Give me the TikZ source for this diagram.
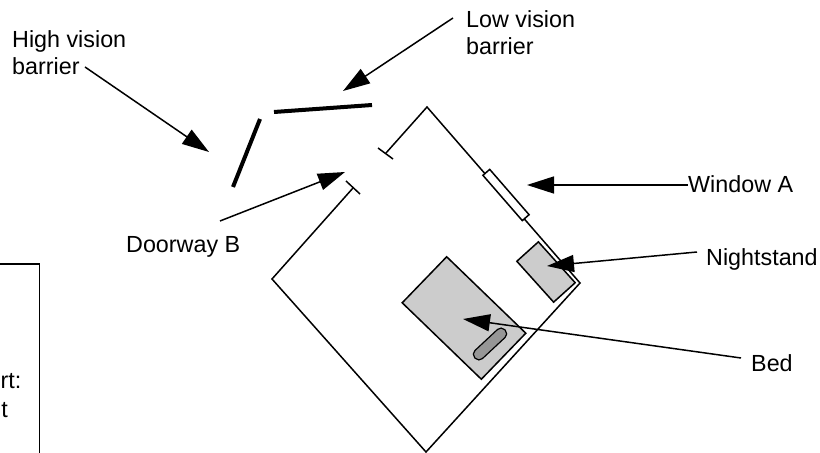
\documentclass[tikz,border=0pt]{standalone}
\usepackage{fontspec}
\setmainfont{Liberation Sans}
\usetikzlibrary{arrows.meta}
\definecolor{furngray}{RGB}{204,204,204}
\definecolor{pillowgray}{RGB}{150,150,150}
\begin{document}
\begin{tikzpicture}[x=1bp,y=-1bp,
  lbl/.style={font=\fontsize{23.4}{28}\selectfont, inner sep=0pt, anchor=base west, align=left},
  wall/.style={line width=1.5bp},
  barrier/.style={line width=4bp},
  pointer/.style={line width=1.5bp, -{Triangle[length=27bp,width=17bp]}},
  furn/.style={draw, line width=1.5bp, fill=furngray, inner sep=0pt},
]
\useasboundingbox (0,0) rectangle (820,453);

% room outline
\coordinate (T) at (427,107);
\coordinate (R) at (580,283);
\coordinate (B) at (426,452);
\coordinate (L) at (272,279);
\coordinate (D1) at (353,188);
\coordinate (D2) at (386,153);
\draw[wall] (D2) -- (T) -- (R) -- (B) -- (L) -- (D1);
\coordinate (t1a) at (346,181); \coordinate (t1b) at (360,194);
\coordinate (t2a) at (378,148); \coordinate (t2b) at (393,159);
\draw[wall] (t1a) -- (t1b);
\draw[wall] (t2a) -- (t2b);

% window
\node[draw, wall, fill=white, minimum width=60bp, minimum height=9bp, rotate=-49, inner sep=0pt] (win) at (506,195) {};

% furniture
\node[furn, minimum width=55bp, minimum height=29bp, rotate=-48] (ns) at (546,272) {};
\node[furn, minimum width=110bp, minimum height=64bp, rotate=-44] (bed) at (464,318) {};
\node[draw, line width=1.2bp, fill=pillowgray, rounded corners=5bp, minimum width=41bp, minimum height=11bp, rotate=43, inner sep=0pt] (pil) at (490,344) {};

% vision barriers
\coordinate (hb1) at (260,119); \coordinate (hb2) at (233,187);
\coordinate (lb1) at (274,112); \coordinate (lb2) at (372,105);
\draw[barrier] (hb1) -- (hb2);
\draw[barrier] (lb1) -- (lb2);

% labels (base = baseline of last line)
\node[lbl] (hvb) at (12,75) {High vision\\barrier};
\node[lbl] (lvb) at (466,55) {Low vision\\barrier};
\node[lbl] (dwb) at (126,253) {Doorway B};
\node[lbl] (wa) at (688,193) {Window A};
\node[lbl] (nst) at (706,266) {Nightstand};
\node[lbl] (bedl) at (751,372) {Bed};

% arrows
\coordinate (a1s) at (85,67);   \coordinate (a1e) at (209,152);
\coordinate (a2s) at (453,18);  \coordinate (a2e) at (343,91);
\coordinate (a3s) at (220,221); \coordinate (a3e) at (345,172);
\coordinate (a4s) at (688,185); \coordinate (a4e) at (527,185);
\coordinate (a5s) at (697,252); \coordinate (a5e) at (547,266);
\coordinate (a6s) at (741,358); \coordinate (a6e) at (463,319);
\draw[pointer] (a1s) -- (a1e);
\draw[pointer] (a2s) -- (a2e);
\draw[pointer] (a3s) -- (a3e);
\draw[pointer] (a4s) -- (a4e);
\draw[pointer] (a5s) -- (a5e);
\draw[pointer] (a6s) -- (a6e);

% partial box at left edge
\coordinate (bx1) at (0,264); \coordinate (bx2) at (39.5,264); \coordinate (bx3) at (39.5,453);
\draw[wall] (bx1) -- (bx2) -- (bx3);
\node[lbl, anchor=base east] (rt) at (21.5,388) {rt:};
\node[lbl, anchor=base east] (tt) at (8,417) {t};
\end{tikzpicture}
\end{document}
